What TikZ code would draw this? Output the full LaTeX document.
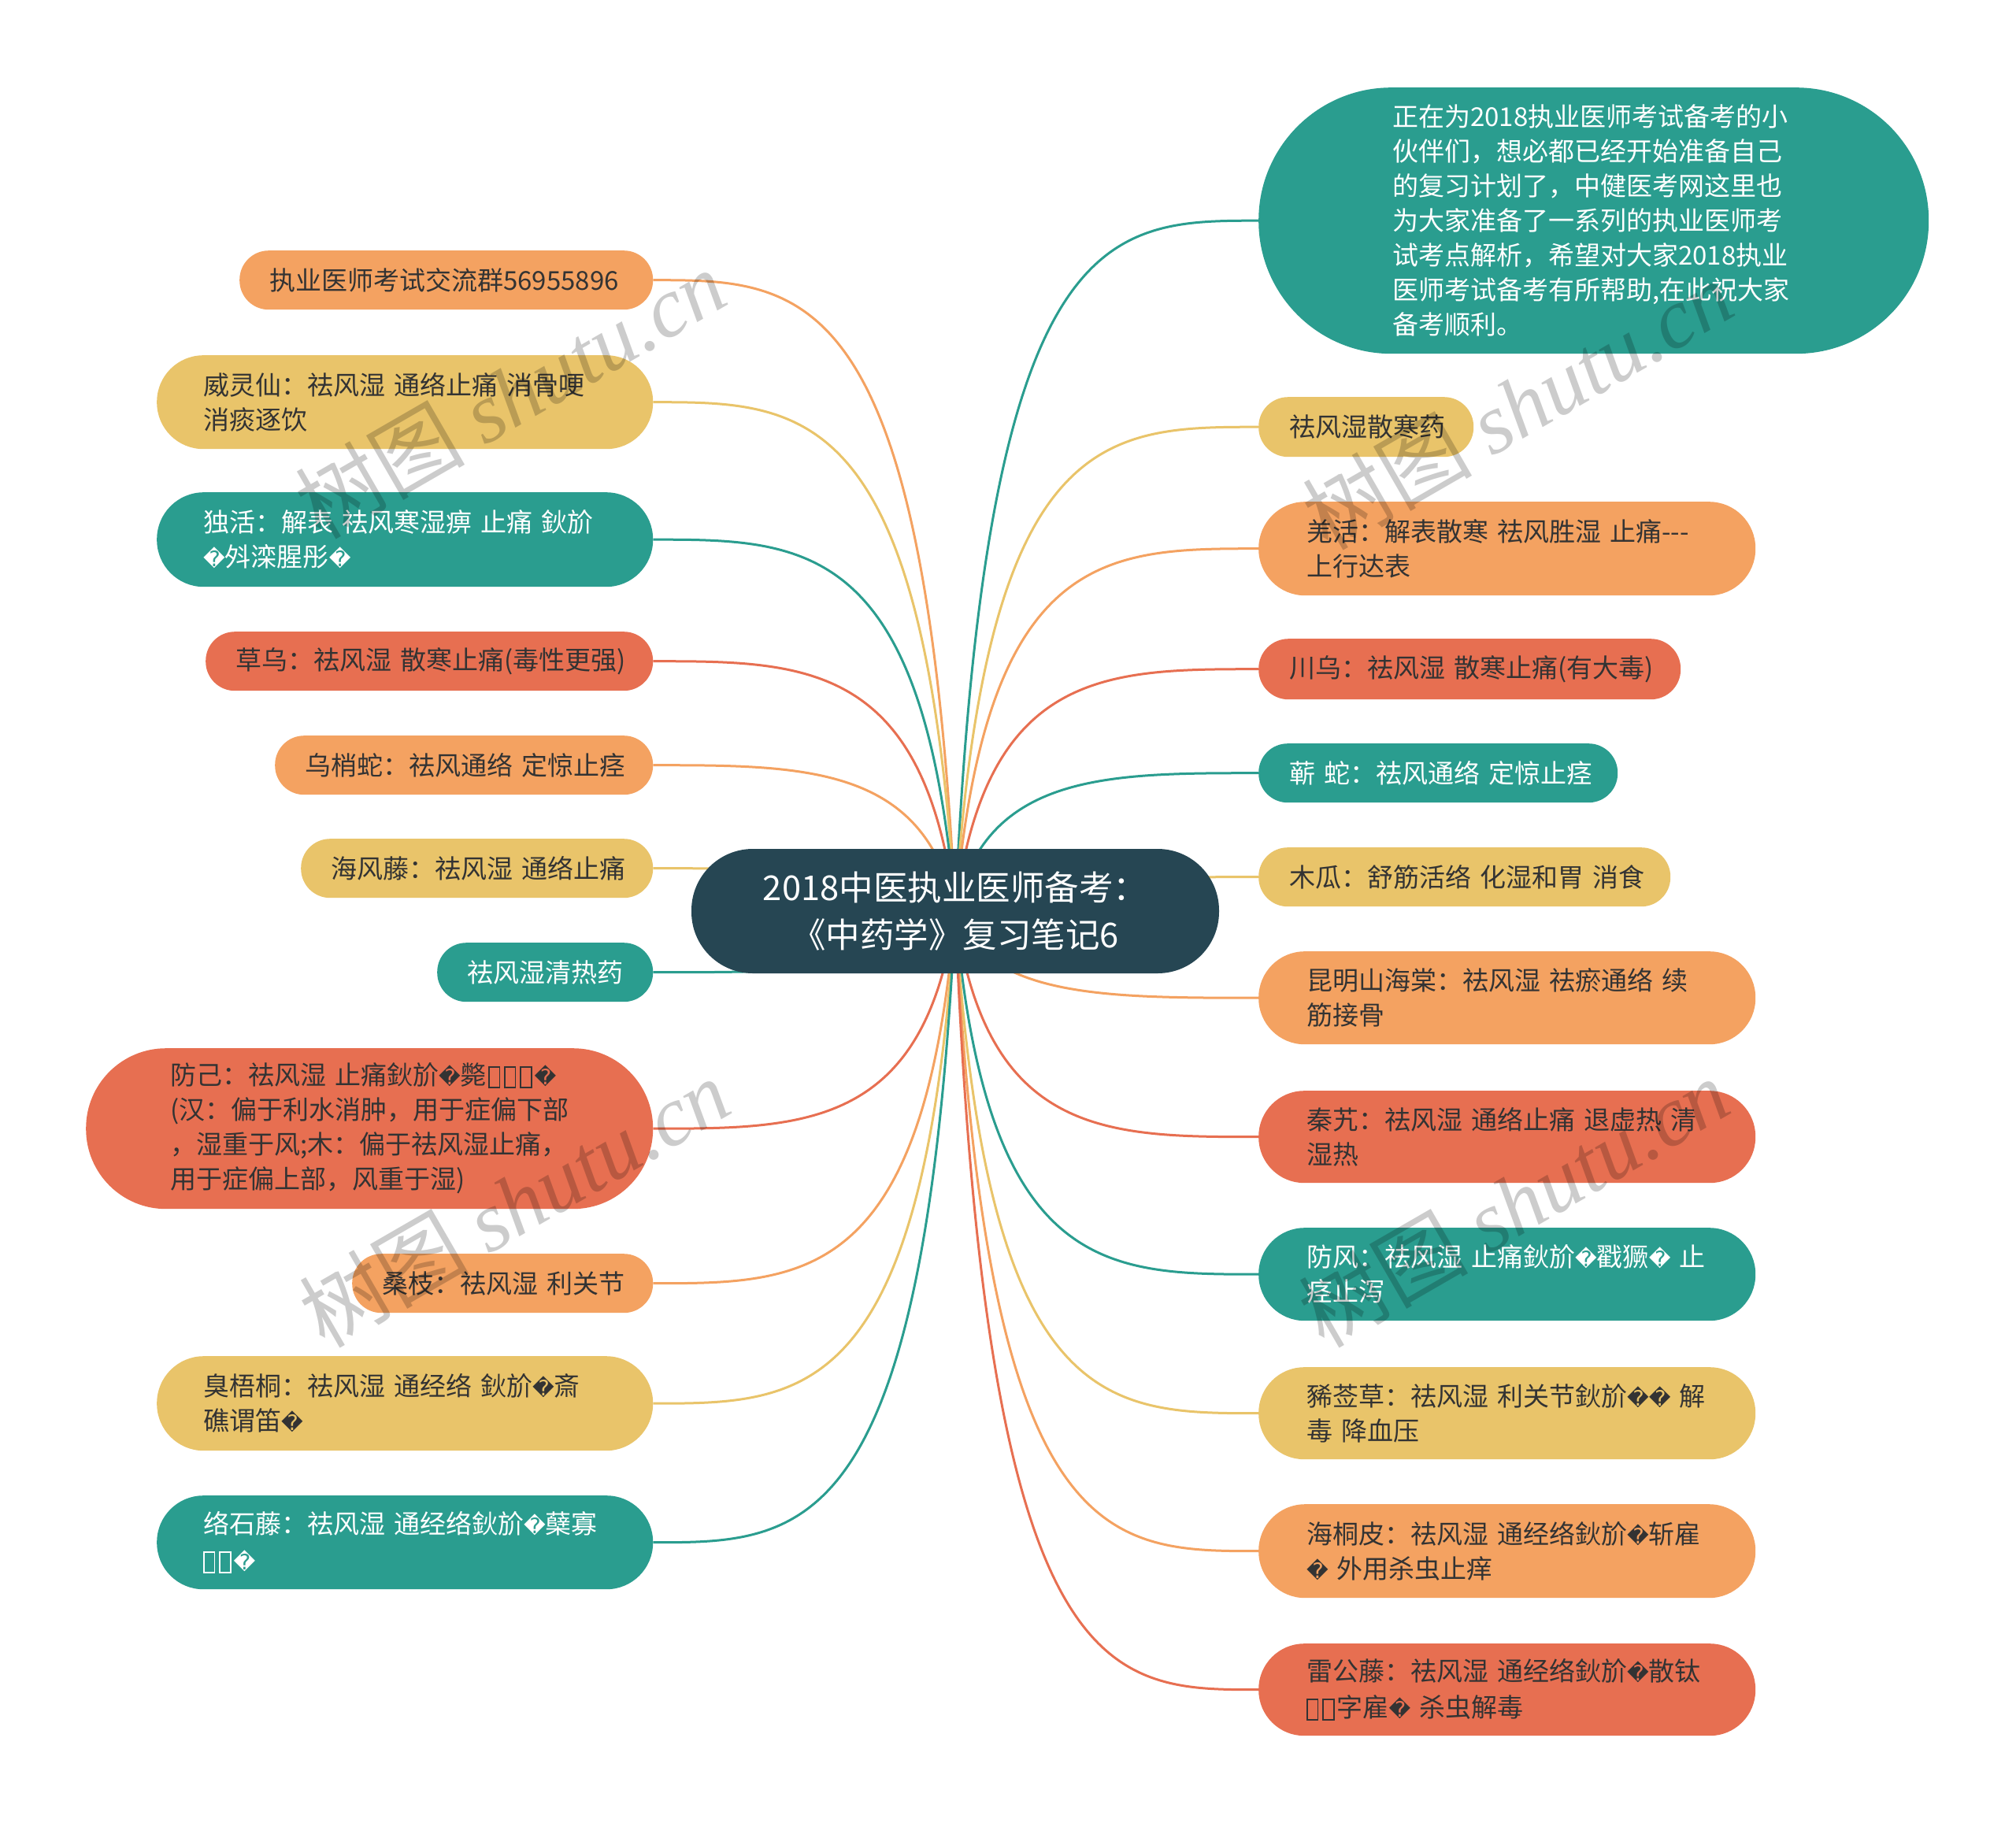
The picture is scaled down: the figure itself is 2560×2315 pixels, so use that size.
\documentclass[tikz,border=0pt]{standalone}
\usepackage{fontspec}
\setmainfont{Noto Sans CJK SC}[Ligatures=NoCommon]
\newfontfamily\dejavu{DejaVu Sans}[Scale=0.82]
\newfontfamily\wmserif{Liberation Serif}
\usetikzlibrary{calc,backgrounds}
\definecolor{cdark}{HTML}{264653}
\definecolor{cteal}{HTML}{2A9D8F}
\definecolor{cyel}{HTML}{E9C46A}
\definecolor{cora}{HTML}{F4A261}
\definecolor{cred}{HTML}{E76F51}
\definecolor{ctxt}{HTML}{333333}
\newcommand\rp{{\dejavu\char"FFFD}}
\newcommand\tf{\kern2pt{\fboxrule=1.6pt\fboxsep=0pt\raisebox{-2pt}{\fbox{\rule{0pt}{24pt}\rule{12pt}{0pt}}}}\kern3pt}
\tikzset{
  mmbox/.style={rectangle, anchor=north west, inner ysep=0pt, align=left,
    font=\fontsize{33}{44}\selectfont},
  tealn/.style={fill=cteal, text=white},
  yeln/.style={fill=cyel, text=ctxt},
  oran/.style={fill=cora, text=ctxt},
  redn/.style={fill=cred, text=ctxt},
  cline/.style={line width=3pt},
  wm/.style={text=black, text opacity=0.2, font=\fontsize{108}{108}\selectfont, rotate=30},
}
% name, x1, y1, x2, y2, pad, style, text
\newcommand\mm[8]{%
  \pgfmathsetmacro\mw{#4-#2}%
  \pgfmathsetmacro\mh{#5-#3}%
  \pgfmathsetmacro\mt{#4-#2-2*#6}%
  \pgfmathsetmacro\mr{(#5-#3)/2-0.5}%
  \node[mmbox, #7, minimum width=\mw pt, minimum height=\mh pt, text width=\mt pt,
        inner xsep=#6pt, rounded corners=\mr pt] (#1) at (#2,#3) {#8};}
\newcommand\conn[2]{%
  \draw[cline, #2] (c.center) .. controls ($(c.center |- #1)!0.1!(#1)$) and ($(c.center |- #1)!0.5!(#1)$) .. (#1);}
\begin{document}
\begin{tikzpicture}[x=1pt,y=-1pt]
\useasboundingbox (0,0) rectangle (2560,2315);
% central
\node[fill=cdark, text=white, rounded corners=78pt, minimum width=670pt, minimum height=158pt,
      align=center, font=\fontsize{43.5}{60}\selectfont, inner sep=0pt] (c) at (1213,1157)
      {2018中医执业医师备考：\\《中药学》复习笔记6};
% left
\mm{L1}{304}{318}{829}{393}{38}{oran}{执业医师考试交流群56955896}
\mm{L2}{199}{451}{829}{570}{59}{yeln}{威灵仙：祛风湿~通络止痛~消骨哽\\消痰逐饮}
\mm{L3}{199}{625}{829}{745}{59}{tealn}{独活：解表~祛风寒湿痹~止痛~鈥斺\\\rp 斘滦腥彤\rp}
\mm{L4}{261}{802}{829}{877}{38}{redn}{草乌：祛风湿~散寒止痛(毒性更强)}
\mm{L5}{349}{934}{829}{1009}{38}{oran}{乌梢蛇：祛风通络~定惊止痉}
\mm{L6}{382}{1065}{829}{1140}{38}{yeln}{海风藤：祛风湿~通络止痛}
\mm{L7}{555}{1197}{829}{1272}{38}{tealn}{祛风湿清热药}
\mm{L8}{109}{1331}{829}{1535}{107}{redn}{防己：祛风湿~止痛鈥斺\rp 斃\tf\tf\tf\rp\\(汉：偏于利水消肿，用于症偏下部\\，湿重于风;木：偏于祛风湿止痛，\\用于症偏上部，风重于湿)}
\mm{L9}{447}{1592}{829}{1667}{38}{oran}{桑枝：祛风湿~利关节}
\mm{L10}{199}{1722}{829}{1842}{59}{yeln}{臭梧桐：祛风湿~通经络~鈥斺\rp 斎\\礁谓笛\rp}
\mm{L11}{199}{1899}{829}{2018}{59}{tealn}{络石藤：祛风湿~通经络鈥斺\rp 蘖寡\\\tf\tf\rp}
% right
\mm{R1}{1598}{111}{2449}{449}{170}{tealn}{正在为2018执业医师考试备考的小\\伙伴们，想必都已经开始准备自己\\的复习计划了，中健医考网这里也\\为大家准备了一系列的执业医师考\\试考点解析，希望对大家2018执业\\医师考试备考有所帮助,在此祝大家\\备考顺利。}
\mm{R2}{1598}{504}{1871}{580}{39}{yeln}{祛风湿散寒药}
\mm{R3}{1598}{637}{2229}{756}{61}{oran}{羌活：解表散寒~祛风胜湿~止痛-{}-{}-\\上行达表}
\mm{R4}{1598}{811}{2134}{888}{39}{redn}{川乌：祛风湿~散寒止痛(有大毒)}
\mm{R5}{1598}{944}{2054}{1019}{39}{tealn}{蕲~蛇：祛风通络~定惊止痉}
\mm{R6}{1598}{1076}{2121}{1151}{39}{yeln}{木瓜：舒筋活络~化湿和胃~消食}
\mm{R7}{1598}{1208}{2229}{1326}{61}{oran}{昆明山海棠：祛风湿~祛瘀通络~续\\筋接骨}
\mm{R8}{1598}{1385}{2229}{1502}{61}{redn}{秦艽：祛风湿~通络止痛~退虚热~清\\湿热}
\mm{R9}{1598}{1559}{2229}{1677}{61}{tealn}{防风：祛风湿~止痛鈥斺\rp 戳獗\rp{}~止\\痉止泻}
\mm{R10}{1598}{1736}{2229}{1853}{61}{yeln}{豨莶草：祛风湿~利关节鈥斺\rp\rp{}~解\\毒~降血压}
\mm{R11}{1598}{1910}{2229}{2029}{61}{oran}{海桐皮：祛风湿~通经络鈥斺\rp 斩雇\\\rp{}~外用杀虫止痒}
\mm{R12}{1598}{2087}{2229}{2204}{61}{redn}{雷公藤：祛风湿~通经络鈥斺\rp 散钛\\\tf\tf 字雇\rp{}~杀虫解毒}
\begin{scope}[on background layer]
\fill[white] (0,0) rectangle (2560,2315);
\conn{L1.east}{cora}
\conn{L2.east}{cyel}
\conn{L3.east}{cteal}
\conn{L4.east}{cred}
\conn{L5.east}{cora}
\conn{L6.east}{cyel}
\conn{L7.east}{cteal}
\conn{L8.east}{cred}
\conn{L9.east}{cora}
\conn{L10.east}{cyel}
\conn{L11.east}{cteal}
\conn{R1.west}{cteal}
\conn{R2.west}{cyel}
\conn{R3.west}{cora}
\conn{R4.west}{cred}
\conn{R5.west}{cteal}
\conn{R6.west}{cyel}
\conn{R7.west}{cora}
\conn{R8.west}{cred}
\conn{R9.west}{cteal}
\conn{R10.west}{cyel}
\conn{R11.west}{cora}
\conn{R12.west}{cred}
\end{scope}
% watermarks
\node[wm] (w1) at (648,500) {树图 {\wmserif\itshape shutu.cn}};
\node[wm] (w2) at (1927,514) {树图 {\wmserif\itshape shutu.cn}};
\node[wm] (w3) at (653,1527) {树图 {\wmserif\itshape shutu.cn}};
\node[wm] (w4) at (1922,1527) {树图 {\wmserif\itshape shutu.cn}};
\end{tikzpicture}
\end{document}
